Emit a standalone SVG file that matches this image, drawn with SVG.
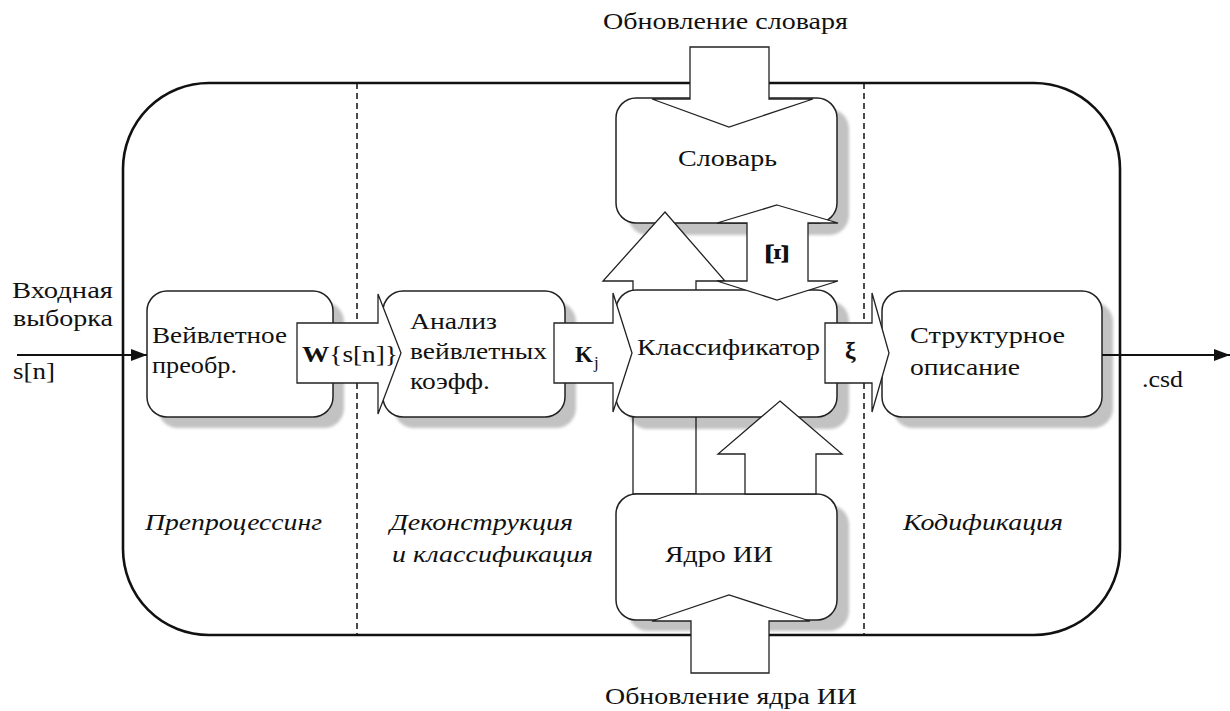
<svg xmlns="http://www.w3.org/2000/svg" width="1230" height="711" viewBox="0 0 1230 711" font-family="'Liberation Serif', 'Times New Roman', 'DejaVu Serif', serif">
<defs>
<style>
text{font-family:'Liberation Serif','Times New Roman','DejaVu Serif',serif;font-size:23px;fill:#111}
.it{font-style:italic}
.b{font-weight:bold}
.box{fill:#fff;stroke:#222;stroke-width:1.5}
.sh{fill:#000;fill-opacity:0.24;filter:url(#blur)}
.arr{fill:#fff;stroke:#222;stroke-width:1.3;stroke-linejoin:miter}
.frame{fill:none;stroke:#111;stroke-width:2.6}
.dash{stroke:#111;stroke-width:1.5;stroke-dasharray:6 4}
.line{stroke:#111;stroke-width:1.8;fill:none}
</style>
<filter id="blur" x="-10%" y="-10%" width="120%" height="120%"><feGaussianBlur stdDeviation="1.5"/></filter>
<marker id="ah2" markerWidth="16" markerHeight="12" refX="16" refY="6" orient="auto" markerUnits="userSpaceOnUse" viewBox="0 0 16 12"><path d="M0,0 L16,6 L0,12 Z" fill="#111"/></marker>
</defs>

<g id="frame">
<rect class="frame" x="123" y="83" width="997" height="552" rx="86" ry="86"/>
<line class="dash" x1="357" y1="83" x2="357" y2="635"/>
<line class="dash" x1="864" y1="83" x2="864" y2="635"/>
</g>

<g id="stage-labels">
<text class="it" x="145" y="530" textLength="177" lengthAdjust="spacingAndGlyphs">Препроцессинг</text>
<text class="it" x="390" y="530" textLength="183" lengthAdjust="spacingAndGlyphs">Деконструкция</text>
<text class="it" x="392" y="562" textLength="201" lengthAdjust="spacingAndGlyphs">и классификация</text>
<text class="it" x="903" y="530" textLength="160" lengthAdjust="spacingAndGlyphs">Кодификация</text>
</g>

<g id="node-wavelet">
<rect class="sh" x="158" y="302" width="186" height="126" rx="20"/>
<rect class="box" x="147" y="291" width="186" height="126" rx="20"/>
<text x="152" y="343" textLength="135" lengthAdjust="spacingAndGlyphs">Вейвлетное</text>
<text x="152" y="373" textLength="85" lengthAdjust="spacingAndGlyphs">преобр.</text>
</g>

<g id="node-analysis">
<rect class="sh" x="394" y="302" width="182" height="126" rx="20"/>
<rect class="box" x="383" y="291" width="182" height="126" rx="20"/>
<text x="410" y="329" textLength="87" lengthAdjust="spacingAndGlyphs">Анализ</text>
<text x="410" y="359" textLength="137" lengthAdjust="spacingAndGlyphs">вейвлетных</text>
<text x="410" y="389" textLength="80" lengthAdjust="spacingAndGlyphs">коэфф.</text>
</g>

<g id="node-dictionary">
<rect class="sh" x="628" y="109" width="221" height="126" rx="20"/>
<rect class="box" x="616" y="98" width="221" height="125" rx="20"/>
<text x="678" y="166" textLength="99" lengthAdjust="spacingAndGlyphs">Словарь</text>
</g>

<g id="connector-core-to-dictionary">
<polygon class="arr" points="665,212 725,281 696,281 696,494 633,494 633,281 603,281"/>
</g>

<g id="node-classifier">
<rect class="sh" x="628" y="301" width="221" height="128" rx="20"/>
<rect class="box" x="616" y="290" width="221" height="127" rx="20"/>
<text x="637" y="355" textLength="183" lengthAdjust="spacingAndGlyphs">Классификатор</text>
</g>

<g id="node-structure">
<rect class="sh" x="893" y="302" width="220" height="126" rx="20"/>
<rect class="box" x="882" y="291" width="220" height="126" rx="20"/>
<text x="910" y="343" textLength="155" lengthAdjust="spacingAndGlyphs">Структурное</text>
<text x="910" y="375" textLength="110" lengthAdjust="spacingAndGlyphs">описание</text>
</g>

<g id="node-core">
<rect class="sh" x="628" y="505" width="221" height="126" rx="20"/>
<rect class="box" x="616" y="494" width="221" height="126" rx="20"/>
<text x="665" y="562" textLength="108" lengthAdjust="spacingAndGlyphs">Ядро ИИ</text>
</g>

<g id="connectors">
<polygon class="arr" points="297,323 378,323 378,294 401,353 378,414 378,383 297,383"/>
<text x="302" y="362" textLength="96" lengthAdjust="spacingAndGlyphs"><tspan class="b">W</tspan>{s[n]}</text>
<polygon class="arr" points="554,323 613,323 613,293 632,353 613,412 613,383 554,383"/>
<text class="b" x="575" y="362">K</text>
<text x="594" y="368" style="font-size:17px">j</text>
<polygon class="arr" points="825,323 872,323 872,293 889,353 872,412 872,383 825,383"/>
<text class="b" x="845" y="358" style="font-size:24px">ξ</text>
<polygon class="arr" points="777,205 838,223 808,223 808,281 838,281 777,300 717,281 747,281 747,223 717,223"/>
<text class="b" x="0" y="0" text-anchor="middle" transform="translate(766,254) rotate(90) scale(1.5)" style="font-size:22px">Ξ</text>
<polygon class="arr" points="780,401 842,454 816,454 816,494 745,494 745,454 718,454"/>
<polygon class="arr" points="690,47 769,47 769,99 813,99 729,127 652,99 690,99"/>
<polygon class="arr" points="691,673 769,673 769,621 810,621 729,595 652,621 691,621"/>
<line class="line" x1="17" y1="355" x2="147" y2="355" marker-end="url(#ah2)"/>
<line class="line" x1="1102" y1="355" x2="1230" y2="355" marker-end="url(#ah2)"/>
</g>

<g id="labels">
<text x="603" y="29" textLength="245" lengthAdjust="spacingAndGlyphs">Обновление словаря</text>
<text x="605" y="704" textLength="252" lengthAdjust="spacingAndGlyphs">Обновление ядра ИИ</text>
<text x="12" y="298" textLength="101" lengthAdjust="spacingAndGlyphs">Входная</text>
<text x="13" y="326" textLength="100" lengthAdjust="spacingAndGlyphs">выборка</text>
<text x="13" y="379" textLength="42" lengthAdjust="spacingAndGlyphs">s[n]</text>
<text x="1142" y="387" textLength="41" lengthAdjust="spacingAndGlyphs">.csd</text>
</g>
</svg>
